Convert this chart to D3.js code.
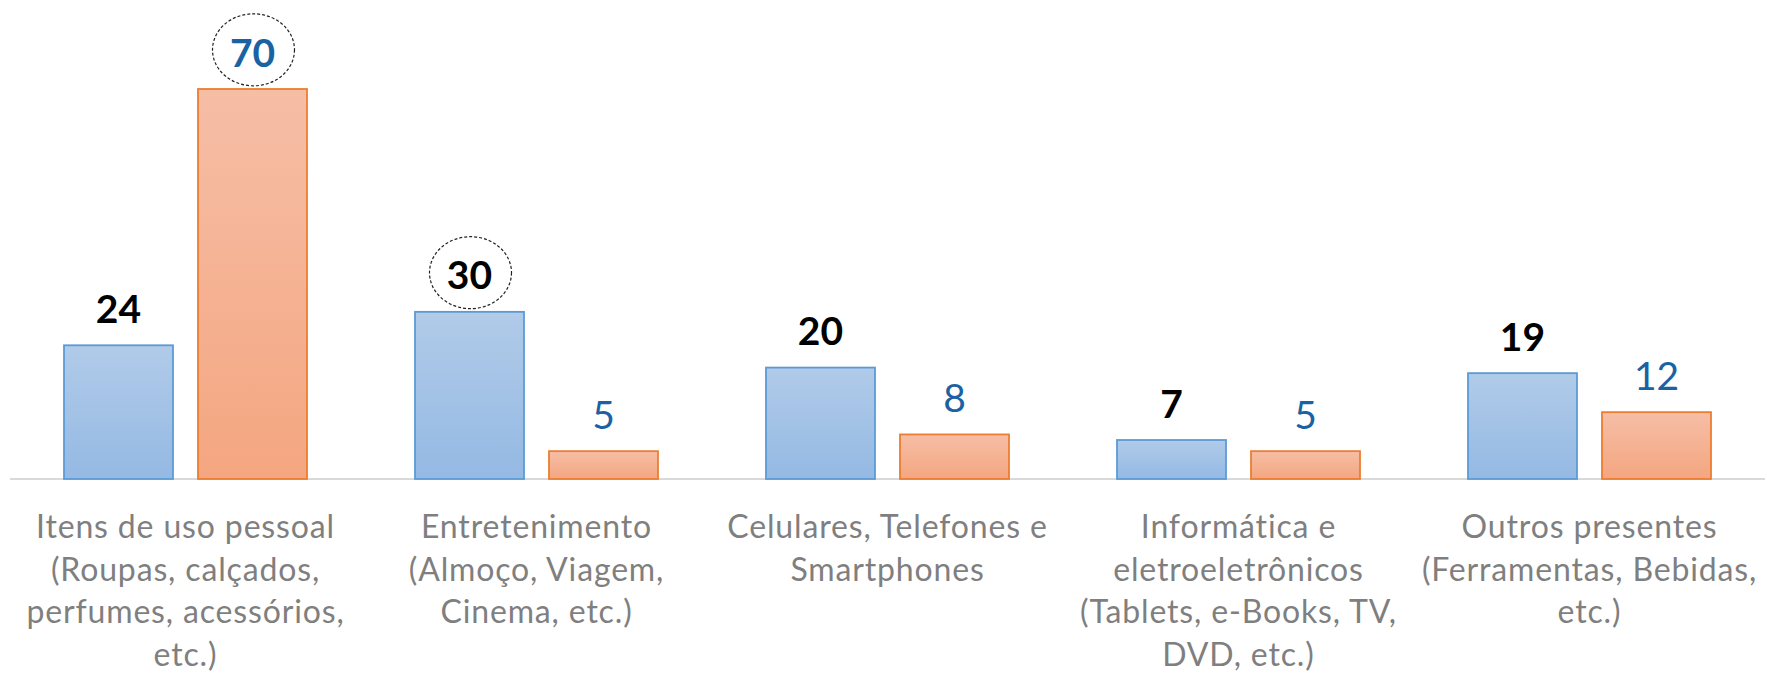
<!DOCTYPE html>
<html>
<head>
<meta charset="utf-8">
<script src="https://cdn.jsdelivr.net/npm/d3@7"></script>
<style>
  html, body { margin: 0; padding: 0; background: #fff; }
  svg { display: block; }
</style>
</head>
<body>
<div id="chart"></div>
<script>
// categories, each one already broken into the lines used on the axis
const categories = [
    ["Itens de uso pessoal", "(Roupas, calçados,", "perfumes, acessórios,", "etc.)"],
    ["Entretenimento", "(Almoço, Viagem,", "Cinema, etc.)"],
    ["Celulares, Telefones e", "Smartphones"],
    ["Informática e", "eletroeletrônicos", "(Tablets, e-Books, TV,", "DVD, etc.)"],
    ["Outros presentes", "(Ferramentas, Bebidas,", "etc.)"]
];
const seriesNames = ["A", "B"];
const valuesA = [24, 30, 20, 7, 19];
const valuesB = [70, 5, 8, 5, 12];
// labels that get the dashed circle around them
const circledA = [false, true, false, false, false];
const circledB = [true, false, false, false, false];

const width = 1767, height = 681;
const svg = d3.select("#chart").append("svg")
    .attr("width", width)
    .attr("height", height)
    .style("font-family", "Lato, 'Open Sans', sans-serif");

const defs = svg.append("defs");
const gradBlue = defs.append("linearGradient").attr("id", "gBlue")
    .attr("x1", 0).attr("y1", 0).attr("x2", 0).attr("y2", 1);
gradBlue.append("stop").attr("offset", "0%").attr("stop-color", "#b1cbe9");
gradBlue.append("stop").attr("offset", "100%").attr("stop-color", "#94b9e3");
const gradOrange = defs.append("linearGradient").attr("id", "gOrange")
    .attr("x1", 0).attr("y1", 0).attr("x2", 0).attr("y2", 1);
gradOrange.append("stop").attr("offset", "0%").attr("stop-color", "#f6bea6");
gradOrange.append("stop").attr("offset", "100%").attr("stop-color", "#f4a680");

const styles = {
    A: { fill: "url(#gBlue)", stroke: "#5b9bd5", label: "#000", weight: "bold" },
    B: { fill: "url(#gOrange)", stroke: "#ed7d31", label: "#1b62a3", weight: "normal" }
};

const rows = categories.map((c, i) => ({
    idx: i,
    lines: c,
    A: valuesA[i],
    B: valuesB[i],
    circA: circledA[i],
    circB: circledB[i]
}));

const x0 = d3.scaleBand()
    .domain(d3.range(categories.length))
    .range([10, 1765])
    .padding(0);

const x1 = d3.scaleBand()
    .domain(seriesNames)
    .range([0, x0.bandwidth()])
    .paddingInner(0.1866)
    .paddingOuter(0.403);

const y = d3.scaleLinear()
    .domain([0, 70])
    .range([479, 89]);

// baseline
svg.append("line")
    .attr("x1", x0.range()[0]).attr("x2", x0.range()[1])
    .attr("y1", y(0)).attr("y2", y(0))
    .attr("stroke", "#d9d9d9")
    .attr("stroke-width", 2);

const group = svg.append("g")
    .selectAll("g")
    .data(rows)
    .join("g")
    .attr("transform", d => `translate(${x0(d.idx)},0)`);

const bars = group.selectAll("g.bar")
    .data(d => seriesNames.map(s => ({ s, v: d[s], circ: d["circ" + s] })))
    .join("g")
    .attr("class", "bar");

bars.append("rect")
    .attr("x", d => x1(d.s))
    .attr("y", d => y(d.v))
    .attr("width", x1.bandwidth())
    .attr("height", d => y(0) - y(d.v))
    .attr("fill", d => styles[d.s].fill)
    .attr("stroke", d => styles[d.s].stroke)
    .attr("stroke-width", 1.8);

const labelSize = 39;
bars.append("text")
    .attr("x", d => x1(d.s) + x1.bandwidth() / 2)
    .attr("y", d => y(d.v) - 22.5)
    .attr("text-anchor", "middle")
    .attr("fill", d => styles[d.s].label)
    .style("font-size", labelSize + "px")
    .style("font-weight", d => d.circ ? "bold" : styles[d.s].weight)
    .text(d => d.v);

bars.filter(d => d.circ)
    .append("ellipse")
    .attr("cx", d => x1(d.s) + x1.bandwidth() / 2 + 1)
    .attr("cy", d => y(d.v) - 22.5 - 38 * 0.36 - 3)
    .attr("rx", 41)
    .attr("ry", 36)
    .attr("fill", "none")
    .attr("stroke", "#222")
    .attr("stroke-width", 1.2)
    .attr("stroke-dasharray", "3,2");

// category labels
group.append("text")
    .attr("text-anchor", "middle")
    .attr("fill", "#7f7f7f")
    .style("font-size", "32px")
    .style("letter-spacing", "0.85px")
    .selectAll("tspan")
    .data(d => d.lines)
    .join("tspan")
    .attr("x", x0.bandwidth() / 2)
    .attr("y", (d, i) => 538 + i * 42.5)
    .text(d => d);
</script>
</body>
</html>
